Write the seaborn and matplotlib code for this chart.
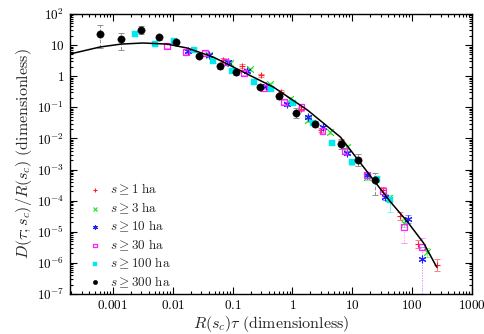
import numpy as np
import pandas as pd
import matplotlib
matplotlib.use("Agg")
import matplotlib.pyplot as plt
import matplotlib.ticker as mticker
import seaborn as sns

# valores (x = R(s_c) tau, y = D/R)
x_1ha = [0.0698, 0.145, 0.303, 0.654, 1.42, 3.06, 6.37, 32.2, 62, 124, 258]
y_1ha = [3.32, 2.13, 1.09, 0.31, 0.088, 0.0186, 8.2e-3, 2.2e-4, 3.2e-5, 4.0e-6, 8.5e-7]
dn_1ha = [0.05, 0.05, 0.05, 0.05, 0.05, 0.05, 0.05, 0.08, 0.12, 0.12, 0.2]
up_1ha = [0.05, 0.05, 0.05, 0.05, 0.05, 0.05, 0.05, 0.08, 0.12, 0.12, 0.2]

x_3ha = [0.0407, 0.0914, 0.198, 0.428, 0.925, 1.85, 4.33, 8.03, 18.0, 40.5, 72.3, 176]
y_3ha = [4.8, 2.65, 1.7, 0.56, 0.185, 0.039, 0.016, 5.3e-3, 5.7e-4, 1.2e-4, 1.9e-5, 2.2e-6]
dn_3ha = [0.05, 0.05, 0.05, 0.05, 0.05, 0.05, 0.05, 0.05, 0.08, 0.1, 0.12, 0.15]
up_3ha = [0.05, 0.05, 0.05, 0.05, 0.05, 0.05, 0.05, 0.05, 0.08, 0.1, 0.12, 0.15]

x_10ha = [0.0181, 0.0407, 0.0848, 0.176, 0.367, 0.825, 1.85, 3.31, 8.03, 17.4, 34.8, 84.4, 145]
y_10ha = [6.46, 4.8, 2.86, 1.47, 0.48, 0.128, 0.049, 0.023, 3.4e-3, 6.65e-4, 1.3e-4, 2.56e-5, 1.3e-6]
dn_10ha = [0.05, 0.05, 0.05, 0.05, 0.05, 0.05, 0.05, 0.05, 0.06, 0.08, 0.1, 0.12, 3.0]
up_10ha = [0.05, 0.05, 0.05, 0.05, 0.05, 0.05, 0.05, 0.05, 0.06, 0.08, 0.1, 0.12, 0.4]

x_30ha = [8.05e-3, 0.0168, 0.0349, 0.0755, 0.157, 0.34, 0.734, 1.42, 3.18, 7.43, 17.4, 32.2, 72.3, 145]
y_30ha = [9.35, 6.0, 5.57, 2.86, 1.27, 0.42, 0.148, 0.102, 0.0173, 3.94e-3, 6.65e-4, 2.04e-4, 1.42e-5, 3.2e-6]
dn_30ha = [0.05, 0.05, 0.05, 0.05, 0.05, 0.05, 0.05, 0.05, 0.05, 0.08, 0.08, 0.1, 0.5, 3.0]
up_30ha = [0.05, 0.05, 0.05, 0.05, 0.05, 0.05, 0.05, 0.05, 0.05, 0.08, 0.08, 0.1, 0.15, 0.3]

x_100ha = [2.34e-3, 5.07e-3, 0.0106, 0.0228, 0.0475, 0.0989, 0.231, 0.445, 1.04, 2.25, 4.68, 10.1, 25.5, 42.2]
y_100ha = [22.7, 10.8, 13.5, 6.95, 3.08, 1.47, 0.65, 0.39, 0.137, 0.031, 7.1e-3, 1.74e-3, 4.95e-4, 1.04e-4]
dn_100ha = [0.05, 0.05, 0.05, 0.05, 0.05, 0.05, 0.05, 0.05, 0.05, 0.05, 0.06, 0.08, 0.1, 0.38]
up_100ha = [0.05, 0.05, 0.05, 0.05, 0.05, 0.05, 0.05, 0.05, 0.05, 0.05, 0.06, 0.08, 0.1, 0.1]

x_300ha = [6.1e-4, 1.37e-3, 2.96e-3, 5.9e-3, 0.0114, 0.0277, 0.0622, 0.115, 0.291, 0.605, 1.17, 2.43, 6.37, 12.3, 23.6]
y_300ha = [22.7, 15.7, 30.6, 18.2, 12.6, 4.47, 2.13, 1.36, 0.45, 0.23, 0.066, 0.029, 6.6e-3, 2.0e-3, 4.6e-4]
dn_300ha = [0.45, 0.35, 0.12, 0.08, 0.08, 0.08, 0.08, 0.08, 0.08, 0.08, 0.17, 0.1, 0.15, 0.2, 0.48]
up_300ha = [0.29, 0.19, 0.12, 0.08, 0.08, 0.08, 0.08, 0.08, 0.08, 0.08, 0.17, 0.1, 0.15, 0.2, 0.23]

curva_x = [1.91e-4, 6.08e-4, 1.37e-3, 3.19e-3, 8.05e-3, 0.0174, 0.0475, 0.103, 0.19, 0.48,
           1.78, 6.37, 22.7, 43.8, 84.4, 156, 258]
curva_y = [5.17, 8.69, 10.8, 11.7, 10.8, 8.07, 4.14, 1.98, 1.09, 0.45,
           0.082, 0.011, 4.6e-4, 9.0e-5, 2.05e-5, 4.3e-6, 7.3e-7]

series = [
    (r"$s \geq 1\ \mathrm{ha}$", x_1ha, y_1ha, dn_1ha, up_1ha, "#ff2020", "+", "#ff8080", "-"),
    (r"$s \geq 3\ \mathrm{ha}$", x_3ha, y_3ha, dn_3ha, up_3ha, "#20e020", "x", "#80ff80", "-"),
    (r"$s \geq 10\ \mathrm{ha}$", x_10ha, y_10ha, dn_10ha, up_10ha, "#2020ff", (6, 2, 0), "#9090ff", ":"),
    (r"$s \geq 30\ \mathrm{ha}$", x_30ha, y_30ha, dn_30ha, up_30ha, "#ff20ff", "s", "#ff90ff", ":"),
    (r"$s \geq 100\ \mathrm{ha}$", x_100ha, y_100ha, dn_100ha, up_100ha, "#00e8f0", "s", "#80f4ff", "-"),
    (r"$s \geq 300\ \mathrm{ha}$", x_300ha, y_300ha, dn_300ha, up_300ha, "#000000", "o", "#909090", "--"),
]

sns.set_theme(style="ticks")
plt.rcParams["font.family"] = ["DejaVu Serif"]
plt.rcParams["mathtext.fontset"] = "cm"
plt.rcParams["xtick.direction"] = "in"
plt.rcParams["ytick.direction"] = "in"

fig = plt.figure(figsize=(4.85, 3.34), dpi=100)
ax = fig.add_axes([0.144, 0.12, 0.829, 0.838])

for rotulo, xs, ys, dn, up, cor, marc, cor_err, estilo in series:
    xs = np.array(xs)
    ys = np.array(ys)
    lo = ys - ys / 10 ** np.array(dn)
    hi = ys * 10 ** np.array(up) - ys
    eb = ax.errorbar(xs, ys, yerr=[lo, hi], fmt="none", ecolor=cor_err,
                     elinewidth=0.7, capsize=2, capthick=0.7, zorder=1)
    eb[2][0].set_linestyle(estilo)
    df = pd.DataFrame({"x": xs, "y": ys})
    if rotulo.find("30\\") > 0:
        sns.scatterplot(data=df, x="x", y="y", ax=ax, marker=marc, s=18,
                        facecolor="none", edgecolor=cor, linewidth=0.9,
                        label=rotulo, zorder=3)
    elif marc == "s":
        sns.scatterplot(data=df, x="x", y="y", ax=ax, marker=marc, s=22,
                        color=cor, edgecolor=cor, linewidth=0.3,
                        label=rotulo, zorder=3)
    elif marc == "o":
        sns.scatterplot(data=df, x="x", y="y", ax=ax, marker=marc, s=28,
                        color=cor, edgecolor=cor, linewidth=0.3,
                        label=rotulo, zorder=3)
    else:
        sns.scatterplot(data=df, x="x", y="y", ax=ax, marker=marc, s=24,
                        color=cor, linewidth=0.8, label=rotulo, zorder=3)

sns.lineplot(x=curva_x, y=curva_y, ax=ax, color="black", linewidth=1.1,
             zorder=4, sort=False, estimator=None)

ax.set_xscale("log")
ax.set_yscale("log")
ax.set_xlim(1.91e-4, 1000)
ax.set_ylim(1e-7, 100)

xticks_val = [1e-3, 1e-2, 1e-1, 1, 10, 100, 1000]
xticks_lab = ["0.001", "0.01", "0.1", "1", "10", "100", "1000"]
yticks_val = [1e-7, 1e-6, 1e-5, 1e-4, 1e-3, 1e-2, 1e-1, 1, 10, 100]
yticks_lab = [r"$10^{-7}$", r"$10^{-6}$", r"$10^{-5}$", r"$10^{-4}$", r"$10^{-3}$",
              r"$10^{-2}$", r"$10^{-1}$", r"$1$", r"$10$", r"$10^{2}$"]

ax.set_xticks(xticks_val)
ax.set_xticklabels([r"$\mathrm{%s}$" % t for t in xticks_lab])
ax.set_yticks(yticks_val)
ax.set_yticklabels(yticks_lab)
ax.xaxis.set_minor_locator(mticker.LogLocator(base=10, subs=np.arange(2, 10), numticks=20))
ax.yaxis.set_minor_locator(mticker.LogLocator(base=10, subs=np.arange(2, 10), numticks=20))
ax.xaxis.set_minor_formatter(mticker.NullFormatter())
ax.yaxis.set_minor_formatter(mticker.NullFormatter())
ax.tick_params(which="both", top=True, right=True, direction="in", labelsize=9.5,
               width=0.8, color="black", labelcolor="black")
ax.tick_params(which="major", length=5, pad=4)
ax.tick_params(which="minor", length=2.5)
for sp in ax.spines.values():
    sp.set_linewidth(1.0)
    sp.set_color("black")

ax.set_xlabel(r"$R(s_c)\tau\ \mathrm{(dimensionless)}$", fontsize=11.5, labelpad=1)
ax.set_ylabel(r"$D(\tau;s_c)/R(s_c)\ \mathrm{(dimensionless)}$", fontsize=11.5, labelpad=2)

leg = ax.legend(loc="lower left", bbox_to_anchor=(0.025, -0.018), frameon=False,
                fontsize=9.5, handlelength=0.9, handletextpad=0.7,
                labelspacing=0.22, borderpad=0.2, markerscale=0.6)

fig.savefig("out.png", dpi=100)
